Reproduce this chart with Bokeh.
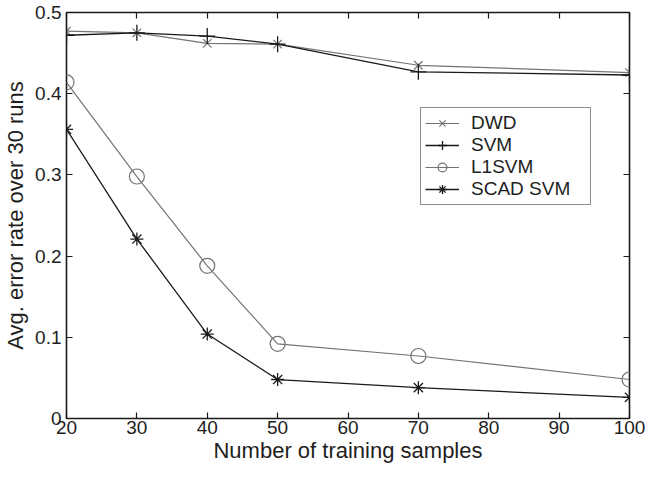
from bokeh.plotting import figure
from bokeh.models import FixedTicker, CustomJSTickFormatter, LinearAxis, Legend, LegendItem, Range1d
from bokeh.embed import file_html
from bokeh.resources import INLINE

samples = [20, 30, 40, 50, 70, 100]
dwd = [0.477, 0.475, 0.462, 0.461, 0.435, 0.426]
svm = [0.472, 0.475, 0.471, 0.461, 0.427, 0.423]
l1svm = [0.414, 0.298, 0.188, 0.092, 0.077, 0.048]
scad = [0.356, 0.221, 0.104, 0.048, 0.038, 0.026]
x_ticks = [20, 30, 40, 50, 60, 70, 80, 90, 100]
y_ticks = [0, 0.1, 0.2, 0.3, 0.4, 0.5]

FONT = "Liberation Sans"
GRAY = "#747474"
BLACK = "#1a1a1a"
TXT = "#1e1e1e"

p = figure(width=655, height=465, output_backend="svg", toolbar_location=None,
           x_range=Range1d(20, 100), y_range=Range1d(0, 0.5),
           min_border_left=64, min_border_right=26, min_border_top=12, min_border_bottom=40)
p.grid.visible = False
p.outline_line_color = BLACK
p.outline_line_width = 1.6
p.background_fill_color = "white"
p.border_fill_color = "white"

fmt = CustomJSTickFormatter(code="return String(Number(tick.toFixed(1)));")
blank = CustomJSTickFormatter(code="return '';")

def style(ax):
    ax.axis_line_color = None
    ax.major_tick_in = 6
    ax.major_tick_out = 0
    ax.minor_tick_line_color = None
    ax.major_tick_line_color = BLACK
    ax.major_tick_line_width = 1.2
    ax.major_label_text_font = FONT
    ax.major_label_text_font_size = "19px"
    ax.major_label_text_color = TXT
    ax.axis_label_text_font = FONT
    ax.axis_label_text_font_size = "22px"
    ax.axis_label_text_font_style = "normal"
    ax.axis_label_text_color = TXT

p.xaxis.ticker = FixedTicker(ticks=x_ticks)
p.yaxis.ticker = FixedTicker(ticks=y_ticks)
p.yaxis.formatter = fmt
p.xaxis.axis_label = "Number of training samples"
p.yaxis.axis_label = "Avg. error rate over 30 runs"
style(p.xaxis[0])
style(p.yaxis[0])
p.xaxis.major_label_standoff = 2
p.yaxis.major_label_standoff = 5
p.xaxis.axis_label_standoff = 1
p.yaxis.axis_label_standoff = 4

top = LinearAxis(ticker=FixedTicker(ticks=x_ticks), formatter=blank)
right = LinearAxis(ticker=FixedTicker(ticks=y_ticks), formatter=blank)
style(top)
style(right)
top.major_label_standoff = 0
right.major_label_standoff = 0
p.add_layout(top, "above")
p.add_layout(right, "right")

r1 = p.line(samples, dwd, line_color=GRAY, line_width=1.2)
m1 = p.scatter(samples, dwd, marker="x", size=12, line_color=GRAY, fill_color=None, line_width=1.2)
r2 = p.line(samples, svm, line_color=BLACK, line_width=1.3)
m2 = p.scatter(samples, svm, marker="cross", size=16, line_color=BLACK, fill_color=None, line_width=1.3)
r3 = p.line(samples, l1svm, line_color=GRAY, line_width=1.2)
m3 = p.scatter(samples, l1svm, marker="circle", size=15, line_color=GRAY, fill_color=None, line_width=1.2)
r4 = p.line(samples, scad, line_color=BLACK, line_width=1.3)
m4 = p.scatter(samples, scad, marker="asterisk", size=13, line_color=BLACK, fill_color=None, line_width=1.3)

legend = Legend(items=[
    LegendItem(label="DWD", renderers=[r1, m1]),
    LegendItem(label="SVM", renderers=[r2, m2]),
    LegendItem(label="L1SVM", renderers=[r3, m3]),
    LegendItem(label="SCAD SVM", renderers=[r4, m4]),
], location=(354, 213))
legend.label_text_font = FONT
legend.label_text_font_size = "19px"
legend.label_text_color = TXT
legend.border_line_color = BLACK
legend.border_line_width = 1.6
legend.glyph_width = 34
legend.glyph_height = 22
legend.label_height = 22
legend.label_width = 115
legend.spacing = 0
legend.padding = 4
legend.margin = 0
legend.label_standoff = 12
p.add_layout(legend, "center")

open("out.html", "w").write(file_html(p, INLINE))
